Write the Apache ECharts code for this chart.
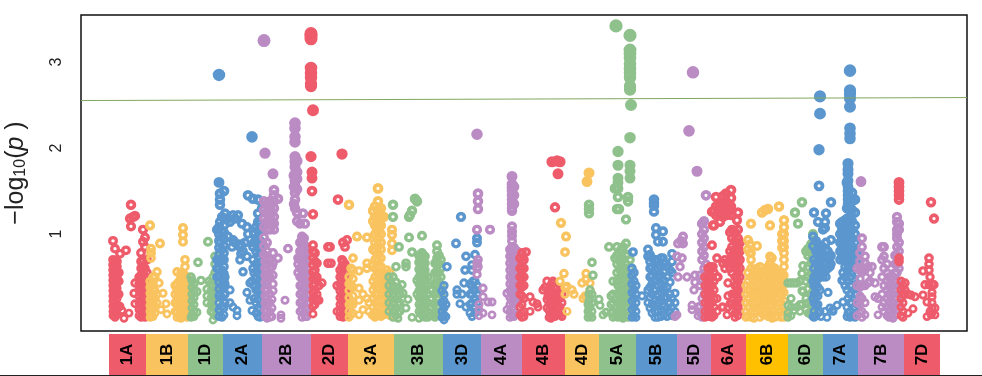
<!DOCTYPE html>
<html><head><meta charset="utf-8">
<style>html,body{margin:0;padding:0;background:#fff}#c{width:982px;height:376px}</style>
<script src="https://cdn.jsdelivr.net/npm/echarts@6/dist/echarts.min.js"></script>
</head><body><div id="c"></div>
<script>
// each entry: [position, [-log10(p) values read at that position]]
const chr1A=[[113,[.05,.1,.16,.22,.28,.34,.4,.46,.52,.58,.64,.7,.92]],[115,[.03,.08,.14,.2,.27,.33,.39,.45,.51,.57,.63,.69,.83]],[117,[.06,.12,.18,.25,.31,.37,.43,.49,.55,.62,.68]],[119,[.15,.3,.45,.55]],[120,[.77,.16]],[126,[.81]],[124,[.02]],[129,[.08]],[122,[.11]],[131,[1.34,1.09]],[135,[1.21,.43,.19]],[130,[1.18]],[133,[1.2]],[134,[.31]],[139,[.05,.12,.2,.28,.35,.42,.5]],[141,[.03,.1,.17,.24,.31,.38,.45,.52,.6,.68,.78]],[143,[.04,.11,.18,.25,.32,.39,.46,.53,.6,.7,.91,1.05]],[145,[.03,.09,.16,.23,.3,.37,.44,.51,.6,.85,.96]],[147,[.05,.13,.21,.29,.37,.45,.55,.7]]];
const chr1B=[[150,[1.1,.03,.1,.17,.24,.31,.38,.45]],[151,[.83,.78,.72,.05,.14,.22,.3,.4]],[153,[.04,.12,.2,.28,.36,.44,.5]],[155,[.5,.08,.16,.25,.34]],[157,[.56,.2,.3]],[160,[.89]],[159,[.43]],[163,[.31]],[166,[.19]],[161,[.12]],[167,[.07]],[183,[1.07,.99,.91]],[185,[.7,.62,.04,.12,.2,.28,.36,.44,.52]],[177,[.56,.03,.1,.18,.26,.34,.42]],[179,[.05,.13,.21,.29,.37,.45]],[181,[.02,.09,.17,.25,.33,.41,.49,.55]],[183,[.04,.12,.2,.28,.36,.44,.52]],[187,[.03,.11,.19,.27,.35,.43,.5]],[189,[.06,.15,.24,.33,.42]],[175,[.1,.2,.3,.4]]];
const chr1D=[[208,[.91]],[198,[.67]],[215,[.74,.65,.55,.45,.35,.25,.15,.05]],[201,[.46]],[209,[.45]],[192,[.46,.38,.3,.22,.14,.06]],[194,[.42,.34,.26,.18,.1,.04]],[197,[.33,.09]],[191,[.03,.5]],[213,[0,.08,.16,.24,.32,.4,.5]],[211,[.1,.18,.26,.34,.42]],[207,[.2,.28,.36]],[217,[.1,.2,.3,.4,.5,.6]]];
const chr2A=[[219,[2.85,1.6,.04,.12,.2,.28,.36,.44,.52,.6,.68,.76,.84,.92,1.0,1.08]],[224,[1.5,.06,.14,.22,.3,.38,.46,.54,.62,.7,.78,.86,.94,1.02,1.1,1.18]],[220,[1.47,1.4,1.34,1.14,.1,.3,.5,.7,.9]],[222,[.03,.16,.26,.4,.58,.72,.82,.96,1.04,1.2]],[225,[1.24,.5,.42,.3,.2]],[233,[1.22,.93,.15]],[238,[1.22]],[217,[1.05,.5,.6,.7]],[230,[1.14,.35,.2]],[232,[.85]],[242,[1.12]],[247,[1.08,.74,.32]],[248,[1.0,1.45]],[240,[.85,.7]],[243,[.56,.8]],[245,[.9]],[253,[1.41,.85,.6,.7]],[252,[2.13,.11,.45]],[258,[1.4,1.24,.04,.14,.24,.34,.44,.54,.64,.74,.84,.94,1.04,1.14]],[260,[.03,.12,.22,.32,.42,.52,.62,.72,.82,.92,1.02,1.12]],[256,[.08,.2,.35,.5,.65,.8,.95,1.08]],[254,[.25,.4,.55,.9,1.0]],[262,[.06,.18,.3,.42,.54,.66,.78,.9,1.05,1.3]],[250,[.43,.23]],[237,[.11,.05]],[228,[1.18,.97]],[235,[1.18,.9]],[241,[.77,.88]]];
const chr2B=[[264,[3.25,1.38,1.28,1.18,1.08,.96,.86,.76]],[265,[1.94,.04,.12,.2,.28,.36,.44,.52,.6,.68]],[273,[1.7,.78,.66,.52,.42,.34]],[274,[1.51,1.45,1.38,1.3,1.2,1.12,1.05]],[278,[1.41,.72]],[270,[1.38,1.3,1.2,1.12,1.05,.7,.6,.5,.3,.2,.1,.03]],[267,[1.35,1.25,1.15,1.05,.9,.8,.02,.1,.18,.26,.34,.42,.5,.58,.66,.74]],[272,[1.25,1.12,.04,.14,.24,.62]],[288,[.83]],[285,[.23]],[281,[.06,.02]],[295,[2.29,2.23,2.13,2.07,1.9,1.84,1.78,1.7,1.62,1.56,1.48,1.4,1.3]],[297,[1.85,1.72,1.64,1.52,1.25,1.15]],[294,[1.68,1.55,1.35]],[303,[1.24]],[300,[1.12,.9,.8,.7,.6,.5,.4,.3,.2,.1]],[305,[1.12,.04,.14,.24,.34,.44,.54,.64,.74,.84]],[302,[.97,.03,.12,.22,.32,.42,.52,.62,.72,.82,.92]],[304,[.95,.08,.18,.28,.38,.48,.58,.68,.78,.88]],[307,[.04,.12,.2,.3,.4,.5,.6,.7]],[298,[.65,.55,.72]]];
const chr2D=[[311,[3.33,3.3,3.27,2.93,2.87,2.82,2.75,2.72,1.9]],[313,[2.44,1.23,.87,.8,.72,.64,.56,.48,.4,.32,.24,.16,.07]],[312,[1.72,1.65,1.5]],[315,[.78,.68,.58,.5,.42,.34,.26,.18]],[317,[.66,.5,.3,.24]],[322,[.43]],[319,[.23,.4]],[328,[.85,.66]],[330,[.85]],[331,[.66]],[342,[1.93,.7,.62,.54,.46,.38,.3,.22,.14,.06]],[338,[1.4]],[347,[.93,.56,.46,.36,.26,.16,.06]],[343,[.9,.68,.6,.5,.42,.34,.26,.18,.1,.03]],[345,[.85,.65,.55,.45,.35,.25,.15,.05]],[337,[.4,.1]],[340,[.58,.5,.42,.34,.26,.18,.1,.04]]];
const chr3A=[[349,[1.34,.03,.1,.18,.26,.34,.42,.5]],[378,[1.53,1.38,1.28,1.18,1.1,1.02,.94,.86,.78,.7,.62,.54,.46,.38,.3,.22,.14,.06]],[375,[1.32,1.2,1.1,1,.9,.8,.7,.6,.5,.4,.3,.2,.1,.03]],[373,[1.27,1.15,.82,.45,.35,.25,.15,.05]],[381,[1.3,1.2,1.1,1,.9,.82,.72,.62,.52,.42,.32,.22,.12,.04]],[384,[1.2,.54,.46,.38,.3,.22,.14,.06]],[357,[.97]],[367,[.96,.66,.6,.25]],[353,[.72,.58,.48,.38,.28,.18,.08]],[351,[.6,.4,.2,.06]],[359,[.57,.37,.23,.06]],[372,[.63,.06]],[387,[.58,.48,.38,.28,.18,.08]],[390,[.55,.45,.35,.25,.15,.05]],[392,[1.05,.99,.89,.81,.4,.2]],[363,[.3,.12]],[369,[.2,.1]]];
const chr3B=[[393,[1.34,1.2,.5,.4,.3,.2,.1,.03]],[399,[.85]],[409,[1.2,.96]],[412,[1.27,.79,.03]],[410,[1.22]],[415,[1.41]],[417,[1.38,.46,.3]],[422,[.98,.78,.7,.62,.54,.46,.38,.3,.22,.14,.06]],[406,[.66,.62,.14]],[402,[.41]],[403,[.31]],[408,[.24]],[396,[.62,.44,.34,.24,.14,.05]],[398,[.38,.28,.18,.08,.02]],[400,[.3,.2,.1]],[389,[.1,.2,.3,.4,.5]],[419,[.75,.67,.59,.5,.42,.34,.26,.18,.1,.02]],[421,[.72,.64,.56,.48,.4,.32,.24,.16,.08]],[423,[.76,.66,.58,.5,.36,.28,.2,.12,.04]],[425,[.74,.66,.58,.5,.42,.34,.26,.18,.1,.03]],[428,[.5,.4,.3,.2,.1,.03]],[431,[.35,.25,.15,.05]],[434,[.42,.3,.18,.06]],[437,[.87,.8,.72,.64,.56,.48,.4,.32,.24,.16,.08]],[439,[.75,.65,.55,.45,.35,.25,.15,.05]],[441,[.7,.6,.5,.4,.3,.2,.1]],[435,[.66,.55,.4,.2,.03]]];
const chr3D=[[447,[.62]],[461,[1.2]],[456,[.89]],[466,[.74,.15]],[475,[.76,.45,.35,.25,.15,.08]],[477,[.95,.9,.4,.3,.2,.1]],[465,[.58]],[472,[.64,.58,.4,.3,.2,.04]],[464,[.43]],[457,[.35,.3]],[462,[.3]],[460,[.19]],[473,[.45,.35]],[470,[.42,.3,.18,.08]],[444,[0,.06,.14,.22,.3,.4]],[442,[.03,.1,.2,.34]],[446,[.04,.18]]];
const chr4A=[[477,[2.16,1.05,.66,.6,.53]],[478,[1.47,1.38,1.29,.7,.62]],[490,[1.05]],[483,[.37,.27,.08]],[492,[.21,.06]],[488,[.21]],[512,[1.67,1.58,1.54,1.5,1.45,1.4,1.35,1.3,1.27,1.09,1.03,.98,.92,.85,.78,.7,.62,.54,.46,.38,.3,.22,.14,.05]],[510,[.82,.74,.66,.58,.5,.42,.34,.26,.18,.1,.03]],[514,[1.55,1.45,1.35,.84,.76,.68,.6,.52,.44,.36,.28,.2,.12,.04]],[517,[.8,.7,.6,.5,.4,.3,.2]],[507,[.31,.12]],[479,[.12,.18,.05]]];
const chr4B=[[526,[.79]],[522,[.78,.68,.58,.48,.38,.28,.18,.08,.03]],[520,[.72,.6,.5,.4,.3,.15,.06]],[524,[.7,.6,.5,.4,.25,.1,.04]],[530,[.27,.1]],[533,[.21]],[537,[.19]],[538,[.15]],[552,[1.84]],[557,[1.85]],[560,[1.84]],[558,[1.7]],[555,[1.31,.36,.28,.2,.12,.04]],[549,[.35,.27,.19,.11,.03]],[551,[.4,.32,.24,.16,.08,.02]],[553,[.45,.3,.2,.1,.04]],[557,[.38,.3,.22,.14,.06]],[560,[.35,.25,.15,.06]],[562,[.3,.2,.1,.04]],[543,[.35]],[547,[.45,.14,.24]],[545,[.38]],[552,[.43]],[548,[.28]]];
const chr4D=[[561,[1.13]],[566,[.97]],[565,[.79,.38,.3]],[564,[.54]],[560,[.45]],[567,[.39,.1]],[572,[.35]],[574,[.3]],[589,[1.71]],[587,[1.61]],[586,[.54,.47]],[582,[.43]],[590,[.43,.35]],[583,[.25]],[585,[.28]]];
const chr5A=[[589,[1.34,1.29,1.24,.3,.22,.14,.06]],[592,[.67,.3,.2,.1,.03]],[593,[.52]],[590,[.35,.25,.15,.05]],[588,[.18,.1,.03]],[599,[.24]],[600,[.17]],[603,[.06]],[606,[.09]],[616,[3.42]],[630,[3.31,3.14,3.1,3.05,2.98,2.92,2.87,2.82,2.72,2.68,2.12,1.8,1.73,1.65,.7,.6,.45]],[631,[2.5]],[618,[1.96,1.8,1.65,1.6,1.53,1.43,.4,.3,.2,.1,.03]],[615,[1.53,.72,.05]],[617,[1.29,.85,.75,.65,.55,.45,.3,.15]],[619,[1.29]],[628,[1.43,1.38]],[626,[1.17,.89,.75,.65,.55,.45,.35,.25,.15,.05]],[609,[.85]],[613,[.45,.3,.2,.1,.03]],[611,[.28,.18,.08]],[621,[.82,.72,.62,.52,.42,.32,.22,.12,.04]],[623,[.85,.7,.6,.5,.4,.28,.18,.08,.02]],[625,[.6,.3]],[620,[.68,.58,.48,.36,.24,.14,.06]],[628,[.76,.5,.4,.3,.2,.1,.03]]];
const chr5B=[[654,[1.4,1.36,1.33,1.26]],[656,[1.07,.99]],[658,[.91,.7,.6,.5,.4,.3,.2,.1,.03]],[648,[.82,.74,.2,.35]],[633,[.79]],[632,[.6,.52,.42,.32,.22,.12,.03]],[634,[.55,.45,.35,.25,.15,.05]],[636,[.4,.3,.2,.1,.03]],[642,[.28]],[650,[.76,.68,.6,.5,.38,.26,.14]],[652,[.72,.62,.52,.42,.3,.18,.08]],[655,[.7,.58,.46,.34,.22,.1,.03]],[661,[.72,.62,.52,.42,.32,.22,.12,.04]],[664,[.66,.56,.46,.36,.26,.16,.06]],[663,[1.03,.91,.72]],[672,[.77,.68,.55,.25,.15,.05]],[667,[.62,.5,.38,.26,.14,.04]],[670,[.58,.44,.3,.2,.1]],[675,[.31,.2,.1]]];
const chr5D=[[693,[2.88]],[689,[2.2]],[697,[1.73]],[706,[1.45,.65,.55,.45,.35,.25,.15,.05]],[683,[.97,.89]],[678,[.89,.5]],[681,[.92]],[677,[.74,.06]],[682,[.72]],[680,[.62]],[687,[.5]],[695,[.52,.44]],[700,[.52,.4,.16,.08]],[694,[.35]],[692,[.17,.12]],[698,[.15,.05]],[704,[1.15,1.05,.95,.85,.75,.6,.5,.3,.1]],[702,[1.12,1.0,.9,.8,.7,.45,.25,.03]],[675,[.04]]];
const chr6A=[[731,[1.51,1.42,1.32,1.22]],[716,[1.43,1.32,1.22]],[723,[1.44,1.36,1.28,1.2]],[726,[1.47,1.38,1.3,1.22]],[712,[1.26,.87,.6,.5,.4,.3,.2,.1,.03]],[714,[1.27,1.1,.55,.45,.35,.25,.15,.05]],[720,[1.32,1.22,1.14]],[728,[1.32,1.24,.43,.28,.15]],[738,[1.25,1.05,.95,.85,.75,.65,.55,.45,.35,.25,.15,.05]],[737,[1.16,.9,.8,.7,.6,.5,.4,.3,.2,.1]],[713,[1.1,.62]],[732,[1.05,.95,.85,.75,.65,.55,.3,.19,.1]],[735,[1.02,.92,.82,.72,.62,.5,.4,.3,.2,.08,.03]],[740,[.9,.8,.7,.6,.5,.4,.3,.2,.1]],[730,[1.02,.8,.7,.6,.19]],[717,[.72,.5,.25,.1]],[723,[.66,.15]],[705,[.5,.4,.3,.2,.1,.03]],[708,[.6,.5,.4,.3,.2,.1,.04]],[710,[.62,.52,.42,.32,.22,.12,.04]],[718,[.5]],[722,[.15]],[727,[.06,.66]],[725,[.7,.6]]];
const chr6B=[[751,[1.12,.78,.7,.6,.5,.4,.3,.2,.1,.03]],[762,[1.25]],[765,[1.28]],[768,[1.29,.62,.52,.42,.32,.22,.12,.04]],[779,[1.32,.5,.4,.3,.2,.1]],[770,[1.1,.74,.66,.56,.46,.36,.26,.16,.06]],[784,[1.16,1.08,1.0,.92,.85,.78,.7,.62,.52,.42,.32,.22,.1,.03]],[782,[1.0,.92,.84,.55,.45,.35]],[748,[.93,.82,.55,.45,.35,.25,.15,.05]],[757,[.86,.6,.5,.4,.3,.2,.1]],[750,[.88,.78]],[746,[.4,.3,.2,.1,.03]],[754,[.58,.48,.38,.28,.18,.08,.02]],[760,[.62,.52,.42,.32,.22,.12,.03]],[763,[.56,.46,.36,.26,.16,.06]],[766,[.58,.48,.38,.28,.18,.08]],[772,[.72,.62,.52,.42,.32,.22,.12,.02]],[775,[.6,.5,.4,.3,.2,.1,.03]],[777,[.55,.45,.35,.25,.15,.05]],[781,[.5,.4,.3,.2,.1,.03]]];
const chr6D=[[802,[1.37,.54,.34,.18]],[795,[1.25]],[798,[1.12]],[813,[1.0,.9,.82,.7,.58,.46,.34,.22,.1]],[808,[.83,.75,.62,.5,.36,.2,.08]],[811,[.88,.78,.66,.54,.42,.3,.18,.06]],[806,[.8,.45,.25,.12]],[803,[.63,.33]],[788,[.43,.17,.08,.03]],[791,[.43,.25,.15,.05]],[794,[.43,.11]],[797,[.43,.15]],[800,[.45,.18,.1]],[815,[.7,.5,.3,.15,.04]]];
const chr7A=[[820,[2.6,2.4,.85,.72,.5,.35,.1]],[819,[1.98,1.56]],[814,[1.25,.7,.6,.5,.4,.3,.2,.1,.03]],[826,[1.24,.9,.82,.74,.66,.58,.5]],[831,[1.37,.93,.75,.65]],[818,[1.14,.88,.78,.68,.58,.48,.38,.28,.18,.08]],[825,[1.14,1.07,.1]],[823,[1.05,.85,.75,.65,.55,.5]],[813,[.97,.86,.45,.25,.04]],[816,[.92,.8,.66,.54,.42,.3,.18,.05]],[828,[.32,.8,.7,.6]],[830,[.14,.72,.62]],[827,[.03]],[821,[.78,.62,.04]],[833,[.1,.12]],[837,[.17]],[843,[.21,.46,.55,.7,.8,.9,1.0,1.08]],[850,[2.9,2.67,2.63,2.58,2.48,2.23,2.17,2.11,1.3,1.2,1.1,1.0,.9,.8,.7,.6,.5,.4,.3,.2,.1,.03]],[848,[1.82,1.75,1.7,1.62,1.55,1.5,1.45,1.4,1.35,1.05,.95,.85,.75,.65,.45,.25,.08]],[847,[1.6,1.3,1.18,1.08,.98,.88,.78,.68,.58,.35,.15,.04]],[852,[1.48,1.38,1.28,1.15,1.05,.95,.85,.75,.55,.4,.2,.05]],[855,[1.4,1.25,1.1,1.0,.9,.8,.7,.6,.45,.3,.15,.03]],[842,[1.14,1.05,.95,.85,.75,.46]],[840,[1.12,1.0,.9,.8,.7]],[845,[1.16,1.04,.92,.82,.72,.62,.5,.4]],[857,[.9,.78,.66,.54,.42,.3,.18,.06]]];
const chr7B=[[861,[1.61]],[862,[.95,.85,.55,.4,.25,.1,.03]],[860,[.78,.68,.58,.48,.38,.28,.18,.08]],[857,[.6,.4,.2,.05]],[865,[.74,.66,.58,.4,.2,.06]],[868,[.62,.43]],[872,[.62]],[875,[.43]],[875,[.27]],[878,[.25,.06]],[882,[.85,.7,.5,.3,.15]],[884,[.85,.74,.6,.4,.2,.1]],[887,[.65,.55,.45,.35,.25,.15,.05]],[889,[.5,.4,.3,.2,.1,.03]],[891,[.45,.35,.25,.15,.05]],[893,[.5,.4,.3,.2,.1,.02]],[895,[.75,.65,.55,.45,.35,.25,.15,.05]],[897,[1.2,1.14,1.05,1.0,.95,.85,.75,.65,.55,.45,.35,.25,.12]],[899,[1.12,1.05,.9,.8,.6,.4,.2]],[870,[.55,.45]]];
const chr7D=[[899,[1.6,1.55,1.5,1.45,1.4,.72,.68]],[905,[.43,.35,.3]],[915,[.27]],[913,[.13]],[908,[.08,.3]],[901,[.45,.35,.25,.15,.05]],[903,[.4,.3,.2,.1,.03]],[911,[.29]],[931,[1.37,.06]],[934,[1.18,.41]],[929,[.72,.65,.58,.41]],[923,[.57,.29]],[925,[.41]],[927,[.21,.04]],[932,[.27,.2,.14,.42,.32,.08]],[935,[.14,.06]],[930,[.5,.1]]];

const chrNames=['1A','1B','1D','2A','2B','2D','3A','3B','3D','4A','4B','4D','5A','5B','5D','6A','6B','6D','7A','7B','7D'];
const chrEdges=[109,146,188,223,262,311,348,394,443,481,522,565,599,636,677,711,746,788,823,858,904,940];
const chrData=[chr1A,chr1B,chr1D,chr2A,chr2B,chr2D,chr3A,chr3B,chr3D,chr4A,chr4B,chr4D,chr5A,chr5B,chr5D,chr6A,chr6B,chr6D,chr7A,chr7B,chr7D];
const threshold=[[81,2.552],[967,2.587]];
const yTicks=[1,2,3];

const RED='#EE5C6C',YEL='#F9C35F',GRN='#8FC18C',BLU='#5B97CE',PUR='#BB8CC4';
const chrColors=[RED,YEL,GRN,BLU,PUR,RED,YEL,GRN,BLU,PUR,RED,YEL,GRN,BLU,PUR,RED,YEL,GRN,BLU,PUR,RED];
const stripColors=chrColors.slice();stripColors[16]='#FFC000';

const xMin=81,xMax=967,yMin=-0.128,yMax=3.547;
function dots(cols,color){
  const out=[];
  cols.forEach(([x,ys])=>ys.forEach(y=>{
    const bw=2.6+y*0.8;
    out.push({value:[x,y],symbolSize:6.2+y*0.5,
      itemStyle:{color:y>=1.6?color:'rgba(255,255,255,0)',borderColor:color,borderWidth:bw,opacity:1}});
  }));
  return out;
}
const series=chrData.map((cols,i)=>({type:'scatter',name:chrNames[i],xAxisIndex:0,yAxisIndex:0,
  silent:true,data:dots(cols,chrColors[i]),z:2+i*0.01,symbol:'circle',itemStyle:{opacity:1}}));
series.push({type:'line',xAxisIndex:0,yAxisIndex:0,data:threshold,symbol:'none',silent:true,z:5,
  lineStyle:{color:'#7FA860',width:1}});
series.push({type:'custom',xAxisIndex:1,yAxisIndex:1,silent:true,
  data:chrNames.map((n,i)=>[chrEdges[i],chrEdges[i+1],n,i]),
  renderItem(params,api){
    const a=api.coord([api.value(0),1]),b=api.coord([api.value(1),0]);
    const i=api.value(3);
    return {type:'group',children:[
      {type:'rect',shape:{x:a[0],y:a[1],width:b[0]-a[0],height:b[1]-a[1]},style:{fill:stripColors[i]}},
      {type:'text',x:(a[0]+b[0])/2,y:(a[1]+b[1])/2,rotation:Math.PI/2,
       style:{text:chrNames[i],fill:'#000',font:'bold 17px "Liberation Sans"',align:'center',verticalAlign:'middle'}}
    ]};
  }});

const chart=echarts.init(document.getElementById('c'),null,{renderer:'canvas'});
chart.setOption({
  animation:false,
  backgroundColor:'#fff',
  grid:[
    {left:xMin,top:15,width:xMax-xMin,height:316,show:true,borderColor:'#111',borderWidth:1.5,backgroundColor:'#fff',outerBoundsMode:'none'},
    {left:xMin,top:334,width:xMax-xMin,height:41,outerBoundsMode:'none'}
  ],
  xAxis:[
    {type:'value',gridIndex:0,min:xMin,max:xMax,show:false},
    {type:'value',gridIndex:1,min:xMin,max:xMax,show:false}
  ],
  yAxis:[
    {type:'value',gridIndex:0,min:yMin,max:yMax,splitLine:{show:false},axisLine:{show:false},
     axisTick:{show:false},
     axisLabel:{customValues:yTicks,rotate:90,margin:16,color:'#222',fontSize:16,fontFamily:'Liberation Sans',formatter:v=>String(Math.round(v))},
     name:'{a|\u2212log}{s|10}{a|(}{i|p}{a| )}',nameLocation:'middle',nameRotate:90,nameGap:52,
     nameTextStyle:{rich:{
       a:{fontSize:25,fontFamily:'Liberation Sans',color:'#222'},
       s:{fontSize:16,fontFamily:'Liberation Sans',color:'#222',verticalAlign:'bottom',padding:[8,0,0,0]},
       i:{fontSize:25,fontStyle:'italic',fontFamily:'Liberation Sans',color:'#222'}}}},
    {type:'value',gridIndex:1,min:0,max:1,show:false}
  ],
  series,
  graphic:[{type:'line',shape:{x1:0,y1:375.5,x2:982,y2:375.5},style:{stroke:'#222',lineWidth:1},z:20,silent:true}]
});
</script></body></html>
